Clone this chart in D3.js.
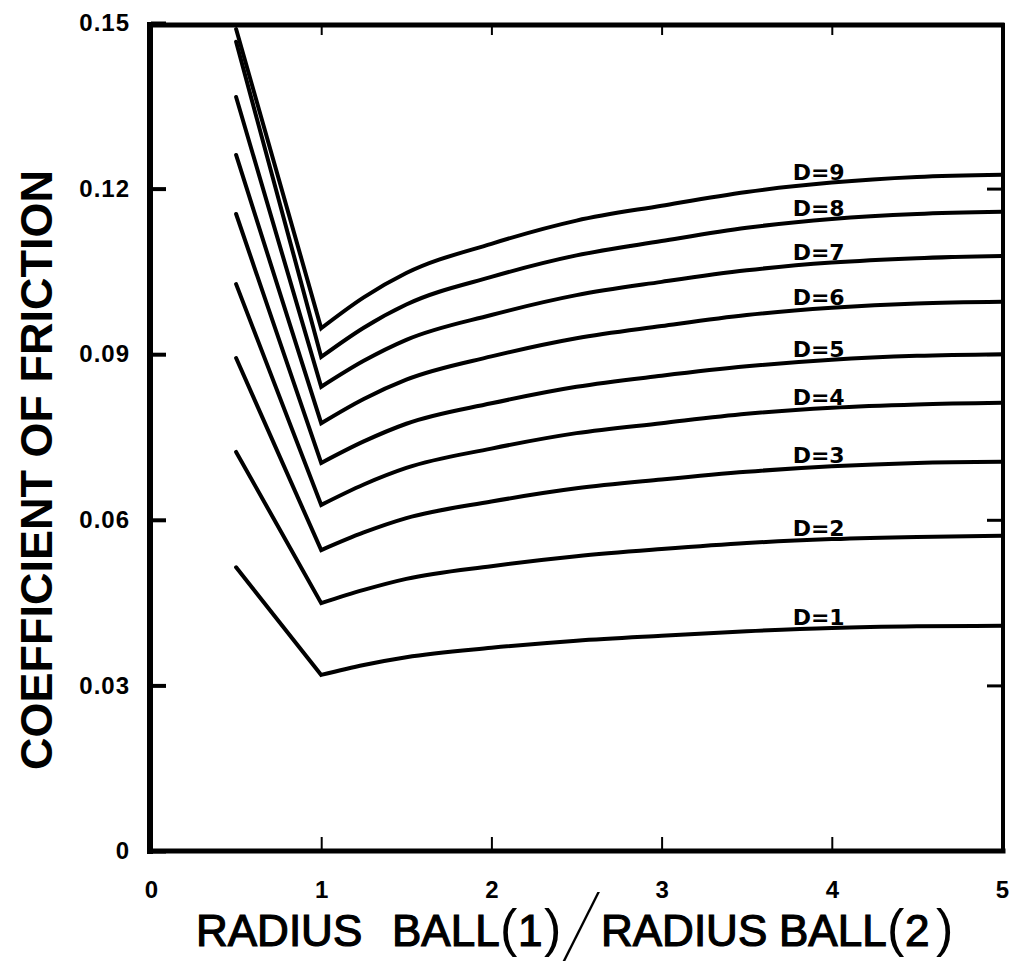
<!DOCTYPE html>
<html>
<head>
<meta charset="utf-8">
<script src="https://cdn.jsdelivr.net/npm/d3@7"></script>
<style>
  html, body { margin: 0; padding: 0; background: #fff; }
  svg { display: block; }
</style>
</head>
<body>
<svg id="chart" width="1012" height="967"></svg>
<script>
// Ratio of ball radii at which each curve is sampled
const ratioStops = [0.5, 1, 1.25, 1.5, 2, 2.5, 3, 3.5, 4, 4.5, 5];

// Coefficient of friction for each D value, one value per ratio stop
const frictionD1 = [0.0514, 0.0319, 0.0337, 0.0351, 0.0368, 0.0381, 0.0390, 0.0398, 0.0404, 0.0407, 0.0408];
const frictionD2 = [0.0723, 0.0449, 0.0473, 0.0493, 0.0516, 0.0534, 0.0547, 0.0558, 0.0565, 0.0569, 0.0571];
const frictionD3 = [0.0893, 0.0545, 0.0577, 0.0603, 0.0633, 0.0657, 0.0673, 0.0687, 0.0697, 0.0703, 0.0705];
const frictionD4 = [0.1027, 0.0627, 0.0664, 0.0694, 0.0729, 0.0757, 0.0775, 0.0792, 0.0803, 0.0809, 0.0812];
const frictionD5 = [0.1154, 0.0703, 0.0742, 0.0774, 0.0811, 0.0841, 0.0861, 0.0878, 0.0890, 0.0897, 0.0900];
const frictionD6 = [0.1261, 0.0775, 0.0819, 0.0854, 0.0896, 0.0929, 0.0951, 0.0971, 0.0984, 0.0992, 0.0995];
const frictionD7 = [0.1366, 0.0841, 0.0888, 0.0926, 0.0971, 0.1007, 0.1031, 0.1052, 0.1066, 0.1074, 0.1078];
const frictionD8 = [0.1466, 0.0895, 0.0948, 0.0990, 0.1040, 0.1079, 0.1105, 0.1129, 0.1145, 0.1154, 0.1158];
const frictionD9 = [0.1489, 0.0947, 0.1003, 0.1047, 0.1100, 0.1142, 0.1169, 0.1194, 0.1211, 0.1221, 0.1225];

const seriesLabels = ["D=1", "D=2", "D=3", "D=4", "D=5", "D=6", "D=7", "D=8", "D=9"];
const seriesValues = [frictionD1, frictionD2, frictionD3, frictionD4, frictionD5,
                      frictionD6, frictionD7, frictionD8, frictionD9];

const xTickValues = [0, 1, 2, 3, 4, 5];
const xTickLabels = ["0", "1", "2", "3", "4", "5"];
const yTickValues = [0, 0.03, 0.06, 0.09, 0.12, 0.15];
const yTickLabels = ["0", "0.03", "0.06", "0.09", "0.12", "0.15"];

const yTitle = "COEFFICIENT OF FRICTION";

// ---- layout ----
const svg = d3.select("#chart");
const plotLeft = 151, plotRight = 1002, plotTop = 23, plotBottom = 851;

const x = d3.scaleLinear().domain([0, 5]).range([plotLeft, plotRight]);
const y = d3.scaleLinear().domain([0, 0.15]).range([plotBottom, plotTop]);

svg.append("rect").attr("width", 1012).attr("height", 967).attr("fill", "#fff");

// clip region for the curves
svg.append("clipPath").attr("id", "plotClip")
  .append("rect")
  .attr("x", x(0)).attr("y", y(0.15) + 2)
  .attr("width", x(5) - x(0)).attr("height", y(0) - y(0.15) - 2);

// ---- curves: straight drop from 0.5 to the minimum at 1, smooth rise after ----
const smooth = d3.line()
  .x(d => x(d[0]))
  .y(d => y(d[1]))
  .curve(d3.curveMonotoneX);

const curveGroup = svg.append("g").attr("clip-path", "url(#plotClip)");

seriesValues.forEach(vals => {
  const pts = ratioStops.map((r, i) => [r, vals[i]]);
  const rise = smooth(pts.slice(1));
  const d = `M${x(pts[0][0])},${y(pts[0][1])}L` + rise.slice(1);
  curveGroup.append("path")
    .attr("d", d)
    .attr("fill", "none")
    .attr("stroke", "#000")
    .attr("stroke-width", 4)
    .attr("stroke-linejoin", "miter")
    .attr("stroke-linecap", "round");
});

// ---- curve labels ----
const labelStart = 3.77;
const labelMid = 3.92;
seriesValues.forEach((vals, k) => {
  const v = d3.scaleLinear().domain(ratioStops).range(vals)(labelMid);
  svg.append("text")
    .attr("x", x(labelStart))
    .attr("y", y(v) - 4)
    .attr("font-family", "DejaVu Sans, sans-serif")
    .attr("font-weight", "bold")
    .attr("font-size", 22)
    .attr("fill", "#000")
    .text(seriesLabels[k]);
});

// ---- axes (ticks point inward) ----
const tickFont = "Liberation Sans, Arial, sans-serif";

const yAxisLeft = d3.axisLeft(y)
  .tickValues(yTickValues)
  .tickFormat((d, i) => yTickLabels[i])
  .tickSize(-15)
  .tickPadding(21);
const gl = svg.append("g").attr("transform", `translate(${x(0)},0)`).call(yAxisLeft);
gl.select(".domain").remove();
gl.selectAll(".tick line").attr("stroke", "#000").attr("stroke-width", 4);
gl.selectAll(".tick text")
  .attr("font-family", tickFont)
  .attr("font-weight", "bold")
  .attr("font-size", 24)
  .attr("letter-spacing", 1)
  .attr("fill", "#000");

const yAxisRight = d3.axisRight(y)
  .tickValues(yTickValues.slice(1, -1))
  .tickFormat("")
  .tickSize(-15);
const gr = svg.append("g").attr("transform", `translate(${x(5)},0)`).call(yAxisRight);
gr.select(".domain").remove();
gr.selectAll(".tick line").attr("stroke", "#000").attr("stroke-width", 3);

const xAxisBottom = d3.axisBottom(x)
  .tickValues(xTickValues)
  .tickFormat((d, i) => xTickLabels[i])
  .tickSize(-14)
  .tickPadding(30);
const gb = svg.append("g").attr("transform", `translate(0,${y(0)})`).call(xAxisBottom);
gb.select(".domain").remove();
gb.selectAll(".tick line").attr("stroke", "#000").attr("stroke-width", 2);
gb.selectAll(".tick text")
  .attr("font-family", tickFont)
  .attr("font-weight", "bold")
  .attr("font-size", 24)
  .attr("fill", "#000");

const xAxisTop = d3.axisTop(x)
  .tickValues(xTickValues.slice(1, -1))
  .tickFormat("")
  .tickSize(-12);
const gt = svg.append("g").attr("transform", `translate(0,${y(0.15)})`).call(xAxisTop);
gt.select(".domain").remove();
gt.selectAll(".tick line").attr("stroke", "#000").attr("stroke-width", 2);

// ---- frame ----
const frame = svg.append("g").attr("stroke", "#000").attr("stroke-linecap", "square");
frame.append("line").attr("x1", x(0)).attr("x2", x(5)).attr("y1", y(0.15) + 2).attr("y2", y(0.15) + 2).attr("stroke-width", 5);
frame.append("line").attr("x1", x(0)).attr("x2", x(5) + 1).attr("y1", y(0)).attr("y2", y(0)).attr("stroke-width", 5);
frame.append("line").attr("x1", x(0) - 1).attr("x2", x(0) - 1).attr("y1", y(0.15) + 2).attr("y2", y(0)).attr("stroke-width", 6);
frame.append("line").attr("x1", x(5) + 1).attr("x2", x(5) + 1).attr("y1", y(0.15) + 2).attr("y2", y(0)).attr("stroke-width", 4);

// ---- axis titles ----
svg.append("text")
  .attr("transform", "translate(52,470) rotate(-90)")
  .attr("text-anchor", "middle")
  .attr("font-family", "Liberation Sans, Arial, sans-serif")
  .attr("font-weight", "bold")
  .attr("font-size", 45)
  .attr("fill", "#000")
  .text(yTitle);

const xt = svg.append("text")
  .attr("y", 946)
  .attr("font-family", "Liberation Sans, Arial, sans-serif")
  .attr("fill", "#000")
  .attr("stroke", "#000")
  .attr("stroke-width", 1.2)
  .attr("font-size", 44);
xt.append("tspan").attr("x", 196).text("RADIUS");
xt.append("tspan").attr("x", 392).text("BALL");
xt.append("tspan").attr("x", 500).attr("font-size", 52).attr("stroke-width", 0).text("(");
xt.append("tspan").attr("x", 518).text("1");
xt.append("tspan").attr("x", 544).attr("font-size", 52).attr("stroke-width", 0).text(")");
xt.append("tspan").attr("x", 601).text("RADIUS");
xt.append("tspan").attr("x", 779).text("BALL");
xt.append("tspan").attr("x", 887).attr("font-size", 52).attr("stroke-width", 0).text("(");
xt.append("tspan").attr("x", 905).text("2");
xt.append("tspan").attr("x", 936).attr("font-size", 52).attr("stroke-width", 0).text(")");

// thin tall slash between the two radii
svg.append("text")
  .attr("transform", "translate(563,960) skewX(-22) scale(0.36,1)")
  .attr("font-family", "Liberation Sans, Arial, sans-serif")
  .attr("font-size", 94)
  .attr("fill", "#000")
  .text("/");
</script>
</body>
</html>
